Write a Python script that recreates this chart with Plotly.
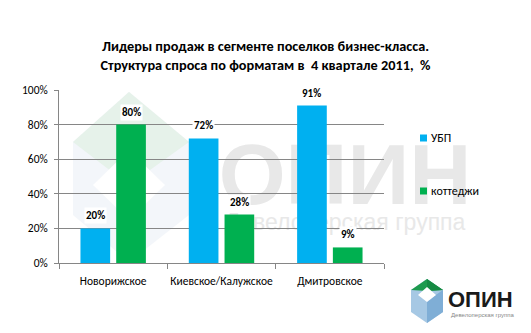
import plotly.graph_objects as go

# ---- data ----
categories = ["Новорижское", "Киевское/Калужское", "Дмитровское"]
ubp = [20, 72, 91]
cottages = [80, 28, 9]
series_names = ["УБП", "коттеджи"]
series_colors = ["#00B0F0", "#00B050"]
y_tick_vals = [0, 20, 40, 60, 80, 100]
y_tick_text = [f"{v}%" for v in y_tick_vals]
title_lines = ["Лидеры продаж в сегменте поселков бизнес-класса.",
               "Структура спроса по форматам в&nbsp; 4 квартале 2011,&nbsp; %"]

W, H = 531, 333
L, R, T, B = 59, 147, 90, 70
PW, PH = W - L - R, H - T - B
FONT = "Carlito, Calibri, 'Open Sans', sans-serif"


def px(x):
    return (x - L) / PW


def py(y):
    return (H - B - y) / PH


def poly(points):
    return "M" + " L".join(f"{px(x):.4f},{py(y):.4f}" for x, y in points) + " Z"


fig = go.Figure()
all_series = [ubp, cottages]
for name, vals, col in zip(series_names, all_series, series_colors):
    fig.add_trace(go.Bar(x=categories, y=vals, name=name, marker_color=col,
                         marker_line_width=0, showlegend=False))

bargap, bargroupgap = 0.34, 0.17
cat_px = PW / len(categories)
slot = cat_px * (1 - bargap) / 2
annotations = []
for k, vals in enumerate(all_series):
    shift = (k - 0.5) * slot
    for c, v in zip(categories, vals):
        annotations.append(dict(x=c, y=v, xref="x", yref="y", text=f"<b>{v}%</b>",
                                showarrow=False, yanchor="bottom", xshift=shift, yshift=4,
                                bgcolor="white", borderpad=1,
                                font=dict(size=11, color="#000000", family=FONT)))

shapes = []
# legend (manual, to match the compact marker/text spacing)
legend_y = [138, 191]
for name, col, ly in zip(series_names, series_colors, legend_y):
    shapes.append(dict(type="rect", xref="paper", yref="paper", layer="above",
                       x0=px(420), x1=px(427), y0=py(ly + 3.5), y1=py(ly - 3.5),
                       fillcolor=col, line_width=0))
    annotations.append(dict(x=px(429), y=py(ly), xref="paper", yref="paper", text=name,
                            showarrow=False, xanchor="left", yanchor="middle",
                            font=dict(size=12, color="#000000", family=FONT)))

# bottom-right logo text
annotations.append(dict(x=px(446), y=py(299), xref="paper", yref="paper", text="<b>ОПИН</b>",
                        showarrow=False, xanchor="left", yanchor="middle",
                        font=dict(size=22, color="#1a1a1a", family="Liberation Sans")))
annotations.append(dict(x=px(449), y=py(315), xref="paper", yref="paper", text="Девелоперская группа",
                        showarrow=False, xanchor="left", yanchor="middle",
                        font=dict(size=6, color="#888888", family="Liberation Sans")))

# watermark hexagon
shapes.append(dict(type="path", xref="paper", yref="paper", layer="below",
                   path=poly([(129, 92), (189, 142), (189, 215), (129, 262), (73, 215), (73, 142)]),
                   fillcolor="#F3F6FA", line_width=0))
shapes.append(dict(type="path", xref="paper", yref="paper", layer="below",
                   path=poly([(129, 92), (189, 142), (129, 185), (73, 142)]),
                   fillcolor="#E6F2EA", line_width=0))
shapes.append(dict(type="path", xref="paper", yref="paper", layer="below",
                   path=poly([(129, 150), (165, 185), (129, 220), (93, 185)]),
                   fillcolor="#FFFFFF", line_width=0))
# watermark text
shapes.append(dict(type="rect", xref="paper", yref="paper", layer="below",
                   x0=px(200), x1=px(490), y0=py(200), y1=py(132), line_width=0,
                   fillcolor="rgba(0,0,0,0)",
                   label=dict(text="<b>ОПИН</b>", textposition="middle center",
                              font=dict(size=86, color="#E8E8E8", family="Liberation Sans"))))
shapes.append(dict(type="rect", xref="paper", yref="paper", layer="below",
                   x0=px(205), x1=px(485), y0=py(233), y1=py(207), line_width=0,
                   fillcolor="rgba(0,0,0,0)",
                   label=dict(text="Девелоперская группа", textposition="middle center",
                              font=dict(size=23, color="#E8E8E8", family="Liberation Sans"))))
# bottom-right logo cube
shapes.append(dict(type="path", xref="paper", yref="paper", layer="above",
                   path=poly([(427, 279), (443, 290), (443, 312), (427, 323), (411, 312), (411, 290)]),
                   fillcolor="#A6C8E4", line_width=0))
shapes.append(dict(type="path", xref="paper", yref="paper", layer="above",
                   path=poly([(427, 301), (443, 290), (443, 312), (427, 323)]),
                   fillcolor="#7FAED6", line_width=0))
shapes.append(dict(type="path", xref="paper", yref="paper", layer="above",
                   path=poly([(427, 279), (443, 290), (427, 291), (411, 290)]),
                   fillcolor="#1E9B4E", line_width=0))
shapes.append(dict(type="path", xref="paper", yref="paper", layer="above",
                   path=poly([(427, 279), (443, 290), (427, 291)]),
                   fillcolor="#168A43", line_width=0))
shapes.append(dict(type="path", xref="paper", yref="paper", layer="above",
                   path=poly([(427, 287), (436, 295), (427, 302), (418, 295)]),
                   fillcolor="#FFFFFF", line_width=0))

fig.update_layout(
    width=W, height=H,
    margin=dict(l=L, r=R, t=T, b=B, pad=0, autoexpand=False),
    paper_bgcolor="white", plot_bgcolor="rgba(0,0,0,0)",
    barmode="group", bargap=bargap, bargroupgap=bargroupgap,
    showlegend=False,
    font=dict(family=FONT, size=11, color="#000000"),
    title=dict(text="<b>" + "<br>".join(title_lines) + "</b>", x=0.5, xref="container",
               xanchor="center", y=1 - 51 / H, yanchor="middle",
               font=dict(size=14.3, family=FONT, color="#000000")),
    annotations=annotations, shapes=shapes,
    xaxis=dict(showline=True, linecolor="#868686", linewidth=1, ticks="outside",
               tickson="boundaries", ticklen=5, tickcolor="#868686",
               ticklabelstandoff=7, tickangle=0, automargin=False,
               showgrid=False, tickfont=dict(size=11.5)),
    yaxis=dict(range=[0, 100], tickvals=y_tick_vals, ticktext=y_tick_text, showline=True,
               linecolor="#868686", ticks="outside", ticklen=4, tickcolor="#868686",
               ticklabelstandoff=4, automargin=False,
               gridcolor="#868686", gridwidth=1, zeroline=False, tickfont=dict(size=11.5)),
)

fig.write_html("out.html")
